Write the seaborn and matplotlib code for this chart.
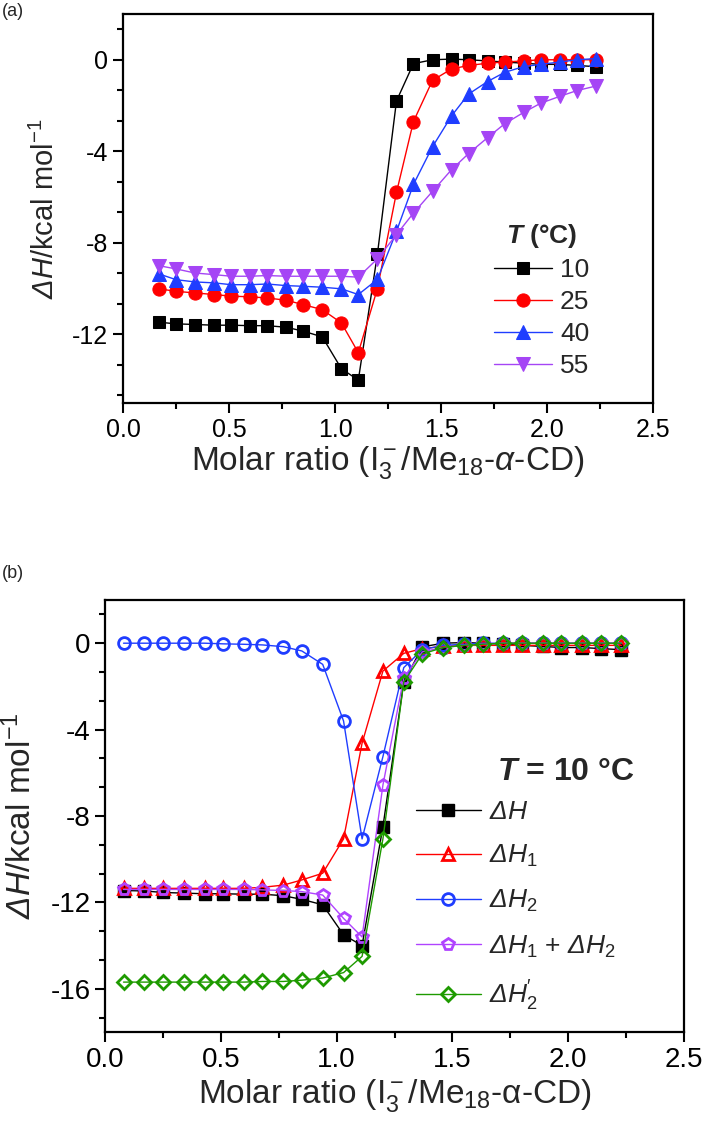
import seaborn as sns
import matplotlib.pyplot as plt
from matplotlib.ticker import MultipleLocator, FormatStrFormatter

# ---- panel (a): heat per injection at four temperatures ----
ratio_a = [0.17, 0.25, 0.34, 0.43, 0.51, 0.60, 0.68, 0.77, 0.85, 0.94, 1.03, 1.11, 1.20,
           1.29, 1.37, 1.46, 1.55, 1.63, 1.72, 1.80, 1.89, 1.97, 2.06, 2.14, 2.23]
dh_10 = [-11.47, -11.54, -11.57, -11.60, -11.60, -11.62, -11.62, -11.69, -11.86, -12.11, -13.5, -14.0,
         -8.5, -1.8, -0.17, 0.0, 0.03, 0.0, -0.05, -0.1, -0.15, -0.2, -0.2, -0.25, -0.3]
dh_25 = [-10.01, -10.12, -10.19, -10.26, -10.33, -10.36, -10.41, -10.51, -10.70, -10.92, -11.50, -12.8,
         -10.0, -5.8, -2.7, -0.9, -0.4, -0.25, -0.15, -0.1, -0.05, 0.0, 0.0, 0.0, 0.0]
dh_40 = [-9.36, -9.61, -9.71, -9.75, -9.83, -9.83, -9.80, -9.87, -9.90, -9.94, -10.01, -10.26,
         -9.6, -7.5, -5.45, -3.8, -2.45, -1.5, -0.95, -0.55, -0.3, -0.2, -0.1, 0.0, 0.05]
dh_55 = [-9.0, -9.14, -9.32, -9.39, -9.46, -9.46, -9.43, -9.46, -9.46, -9.46, -9.46, -9.50,
         -8.7, -7.64, -6.7, -5.75, -4.8, -4.1, -3.4, -2.8, -2.3, -1.9, -1.6, -1.35, -1.15]
temps = ["10", "25", "40", "55"]

# ---- panel (b): decomposition at 10 C ----
ratio_b = [0.08, 0.17, 0.25, 0.34, 0.43, 0.51, 0.60, 0.68, 0.77, 0.85, 0.94, 1.03, 1.11,
           1.20, 1.29, 1.37, 1.46, 1.55, 1.63, 1.72, 1.80, 1.89, 1.97, 2.06, 2.14, 2.23]
dh_tot = [-11.45, -11.47, -11.54, -11.57, -11.60, -11.60, -11.62, -11.62, -11.69, -11.86, -12.11, -13.5,
          -14.0, -8.5, -1.8, -0.17, 0.0, 0.03, 0.0, -0.05, -0.1, -0.15, -0.2, -0.2, -0.25, -0.3]
dh_1 = [-11.35, -11.35, -11.35, -11.35, -11.35, -11.35, -11.35, -11.3, -11.2, -10.96, -10.65, -9.06,
        -4.63, -1.29, -0.47, -0.25, -0.15, -0.1, -0.1, -0.1, -0.1, -0.1, -0.1, -0.1, -0.1, -0.1]
dh_2 = [0.0, 0.0, 0.0, 0.0, 0.0, -0.03, -0.05, -0.08, -0.16, -0.36, -0.98, -3.6,
        -9.06, -5.25, -1.13, -0.3, -0.1, -0.05, 0.0, 0.0, 0.0, 0.0, 0.0, 0.0, 0.0, 0.0]
dh_12 = [-11.4, -11.4, -11.4, -11.4, -11.4, -11.4, -11.4, -11.42, -11.45, -11.5, -11.66, -12.74,
         -13.6, -6.57, -1.6, -0.4, -0.2, -0.1, -0.05, 0.0, 0.0, 0.0, 0.0, 0.0, 0.0, 0.0]
dh_2p = [-15.69, -15.69, -15.69, -15.69, -15.69, -15.69, -15.69, -15.66, -15.66, -15.6, -15.5, -15.25,
         -14.5, -9.06, -1.8, -0.5, -0.2, -0.1, -0.05, 0.0, 0.0, 0.0, 0.0, 0.0, 0.0, 0.0]
labels_b = [r"$\mathsf{\Delta H}$", r"$\mathsf{\Delta H}_1$", r"$\mathsf{\Delta H}_2$",
            r"$\mathsf{\Delta H}_1$ + $\mathsf{\Delta H}_2$", r"$\mathsf{\Delta H}_2^{\prime}$"]

W, H = 707, 1127

sns.set_style("ticks")
plt.rcParams["font.family"] = ["Liberation Sans", "DejaVu Sans"]
plt.rcParams["mathtext.fontset"] = "custom"
plt.rcParams["mathtext.rm"] = "Liberation Sans"
plt.rcParams["mathtext.it"] = "Liberation Sans:italic"
plt.rcParams["mathtext.sf"] = "Liberation Sans:italic"   # italic incl. capital Greek
plt.rcParams["mathtext.bf"] = "Liberation Sans:bold"
plt.rcParams["mathtext.bfit"] = "Liberation Sans:italic:bold"
plt.rcParams["axes.unicode_minus"] = False

fig = plt.figure(figsize=(W / 100, H / 100), dpi=100)


def px_axes(left, top, right, bottom):
    return fig.add_axes([left / W, 1 - bottom / H, (right - left) / W, (bottom - top) / H])


def style_axes(ax, ymin, ymax, yticks, fs):
    ax.set_xlim(0, 2.5)
    ax.set_ylim(ymin, ymax)
    ax.xaxis.set_major_locator(MultipleLocator(0.5))
    ax.xaxis.set_minor_locator(MultipleLocator(0.25))
    ax.xaxis.set_major_formatter(FormatStrFormatter("%.1f"))
    ax.set_yticks(yticks)
    ax.yaxis.set_minor_locator(MultipleLocator(4 / 3))
    for s in ax.spines.values():
        s.set_visible(True)
        s.set_linewidth(1.6)
        s.set_color("black")
    ax.tick_params(which="both", direction="out", top=False, right=False, width=1.5, colors="black")
    ax.tick_params(which="major", length=7.5, labelsize=fs, pad=3)
    ax.tick_params(which="minor", length=4.5)


# ---- (a) ----
ax_a = px_axes(123, 14, 653, 403)
styles_a = [("black", "s", 8), ("#FF0000", "o", 9.5), ("#1F3DFF", "^", 10), ("#A545F5", "v", 10)]
for vals, lab, (c, m, ms) in zip([dh_10, dh_25, dh_40, dh_55], temps, styles_a):
    sns.lineplot(x=ratio_a, y=vals, ax=ax_a, color=c, marker=m, markersize=ms,
                 markeredgecolor=c, markerfacecolor=c, linewidth=1.0, label=lab)
style_axes(ax_a, -15, 2, [-12, -8, -4, 0], 18)
ax_a.set_xlabel(r"Molar ratio (I$_3^-$/Me$_{18}$-$\alpha$-CD)", fontsize=24, va="top")
ax_a.set_ylabel(r"$\mathsf{\Delta H}$/kcal mol$^{-1}$", fontsize=21)
ax_a.xaxis.set_label_coords(0.5, -0.105)
ax_a.yaxis.set_label_coords(-0.118, 0.5)
ax_a.legend(loc="lower left", bbox_to_anchor=(494 / W, 1 - 378 / H), bbox_transform=fig.transFigure,
            frameon=False, fontsize=19, handlelength=2.2, handletextpad=0.3, labelspacing=0.3,
            borderpad=0, borderaxespad=0,
            title=r"$\mathbfit{T}$ (°C)", title_fontproperties={"weight": "bold", "size": 19})
fig.text(2 / W, 1 - 12 / H, "(a)", fontsize=13, va="center")

# ---- (b) ----
ax_b = px_axes(105, 600, 684, 1032)
styles_b = [("black", "s", "black"), ("#FF0000", "^", "none"), ("#1F3DFF", "o", "none"),
            ("#B043FF", "p", "none"), ("#1E9A00", "D", "none")]
for vals, lab, (c, m, fc) in zip([dh_tot, dh_1, dh_2, dh_12, dh_2p], labels_b, styles_b):
    sns.lineplot(x=ratio_b, y=vals, ax=ax_b, color=c, marker=m, markersize=8.5 if m != "D" else 7.5,
                 markeredgecolor=c, markerfacecolor=fc, markeredgewidth=2.0 if fc == "none" else 1.0,
                 linewidth=1.0, label=lab)
style_axes(ax_b, -18, 2, [-16, -12, -8, -4, 0], 20)
ax_b.set_xlabel("Molar ratio (I$_3^-$/Me$_{18}$-α-CD)", fontsize=24, va="top")
ax_b.set_ylabel(r"$\mathsf{\Delta H}$/kcal mol$^{-1}$", fontsize=24)
ax_b.xaxis.set_label_coords(0.5, -0.105)
ax_b.yaxis.set_label_coords(-0.116, 0.5)
ax_b.legend(loc="upper left", bbox_to_anchor=(416 / W, 1 - 800 / H), bbox_transform=fig.transFigure,
            frameon=False, fontsize=19, handlelength=2.45, handletextpad=0.3, labelspacing=0.72,
            borderpad=0, borderaxespad=0)
fig.text(497 / W, 1 - 772 / H, r"$\mathbfit{T}$ = 10 °C", fontsize=23, fontweight="bold", va="center")
fig.text(2 / W, 1 - 573 / H, "(b)", fontsize=13, va="center")

fig.savefig("out.png", dpi=100)
